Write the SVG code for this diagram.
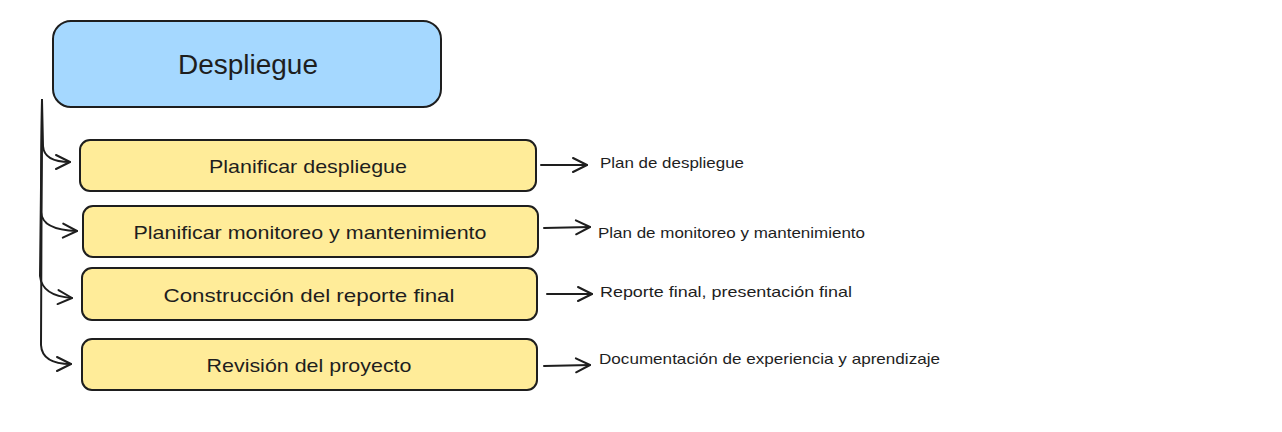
<svg xmlns="http://www.w3.org/2000/svg" width="1282" height="432" viewBox="0 0 1282 432">
<defs>
<marker id="ah" markerUnits="userSpaceOnUse" markerWidth="22" markerHeight="22" refX="16" refY="11" orient="auto">
<path d="M2,4 L16,11 L2,18" fill="none" stroke="#1e1e1e" stroke-width="2" stroke-linecap="round" stroke-linejoin="round"/>
</marker>
</defs>
<style>
.root{fill:#a5d8ff;stroke:#1e1e1e;stroke-width:2}
.step{fill:#ffec99;stroke:#1e1e1e;stroke-width:2}
.t{font-family:"Liberation Sans",Arial,sans-serif;fill:#1e1e1e;text-anchor:middle;dominant-baseline:central}
.lbl{font-family:"Liberation Sans",Arial,sans-serif;fill:#1e1e1e;font-size:15px;dominant-baseline:central}
.c{fill:none;stroke:#1e1e1e;stroke-width:2;stroke-linecap:round;marker-end:url(#ah)}
</style>
<rect width="1282" height="432" fill="#ffffff"/>
<g id="connectors">
<path class="c" d="M42,100 L43,146 Q44,162 70,162"/>
<path class="c" d="M42,100 L41,212 Q42,230 77,231"/>
<path class="c" d="M42,100 L40,276 Q42,296 72,298"/>
<path class="c" d="M42,100 L41,345 Q42,364 71,364"/>
<path class="c" d="M541,165 L587,165"/>
<path class="c" d="M544,228 L590,227"/>
<path class="c" d="M547,294 L592,294"/>
<path class="c" d="M544,366 L590,365"/>
</g>
<g id="node-despliegue">
<rect class="root" x="53" y="21" width="388" height="86" rx="18"/>
<text class="t" x="248" y="64" font-size="28" textLength="140" lengthAdjust="spacingAndGlyphs">Despliegue</text>
</g>
<g id="node-planificar-despliegue">
<rect class="step" x="80" y="140" width="456" height="51" rx="10"/>
<text class="t" x="308" y="166" font-size="19" textLength="198" lengthAdjust="spacingAndGlyphs">Planificar despliegue</text>
</g>
<g id="node-planificar-monitoreo">
<rect class="step" x="83" y="206" width="455" height="51" rx="10"/>
<text class="t" x="310" y="232" font-size="19" textLength="353" lengthAdjust="spacingAndGlyphs">Planificar monitoreo y mantenimiento</text>
</g>
<g id="node-construccion-reporte">
<rect class="step" x="82" y="268" width="455" height="52" rx="10"/>
<text class="t" x="309" y="295" font-size="19" textLength="291" lengthAdjust="spacingAndGlyphs">Construcción del reporte final</text>
</g>
<g id="node-revision-proyecto">
<rect class="step" x="82" y="339" width="455" height="51" rx="10"/>
<text class="t" x="309" y="365" font-size="19" textLength="205" lengthAdjust="spacingAndGlyphs">Revisión del proyecto</text>
</g>
<g id="label-plan-despliegue">
<text class="lbl" x="600" y="162" textLength="144" lengthAdjust="spacingAndGlyphs">Plan de despliegue</text>
</g>
<g id="label-plan-monitoreo">
<text class="lbl" x="598" y="232" textLength="267" lengthAdjust="spacingAndGlyphs">Plan de monitoreo y mantenimiento</text>
</g>
<g id="label-reporte-final">
<text class="lbl" x="600" y="291" textLength="252" lengthAdjust="spacingAndGlyphs">Reporte final, presentación final</text>
</g>
<g id="label-documentacion">
<text class="lbl" x="599" y="358" textLength="341" lengthAdjust="spacingAndGlyphs">Documentación de experiencia y aprendizaje</text>
</g>
</svg>
